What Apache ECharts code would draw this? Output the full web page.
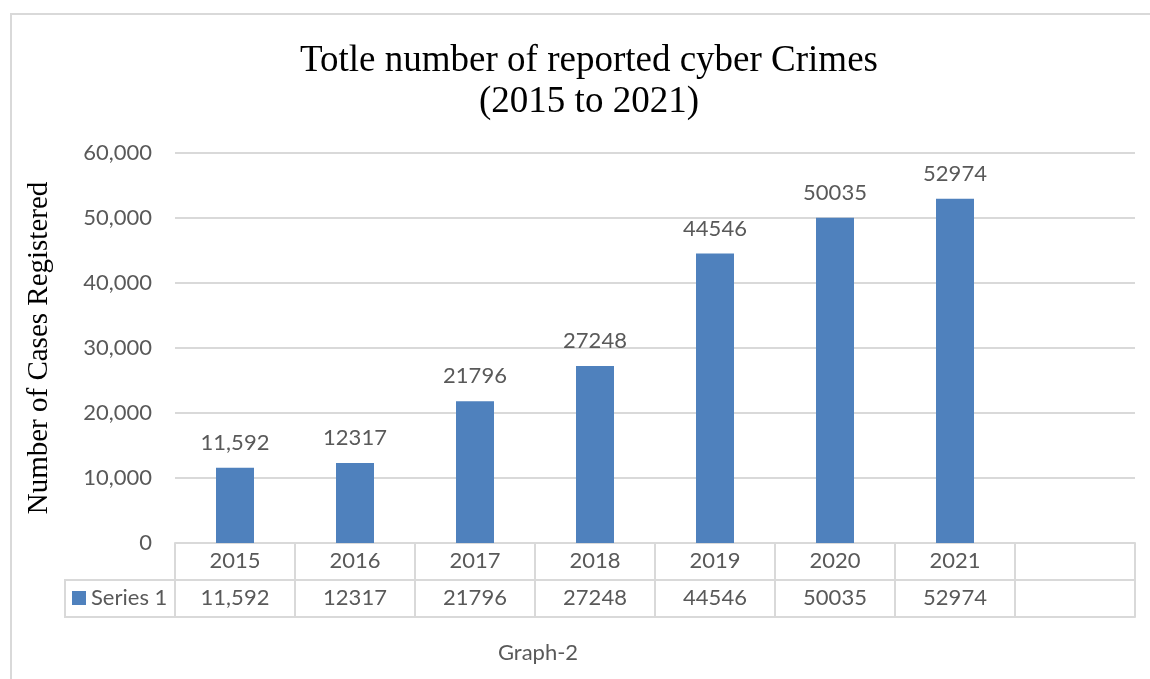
<!DOCTYPE html>
<html>
<head>
<meta charset="utf-8">
<script src="https://cdn.jsdelivr.net/npm/echarts@6/dist/echarts.min.js"></script>
<style>
html,body{margin:0;padding:0;background:#fff;}
#main{width:1150px;height:679px;}
</style>
</head>
<body>
<div id="main"></div>
<script>
// ---- data ----
var categories = ['2015', '2016', '2017', '2018', '2019', '2020', '2021', ''];
var seriesName = 'Series 1';
var values = [11592, 12317, 21796, 27248, 44546, 50035, 52974];
var valueLabels = ['11,592', '12317', '21796', '27248', '44546', '50035', '52974'];
var yTicks = { min: 0, max: 60000, interval: 10000 };
var titleText = 'Totle number of reported cyber Crimes\n(2015 to 2021)';
var yAxisTitle = 'Number of Cases Registered';
var captionText = 'Graph-2';

// ---- styles ----
var gray = '#d9d9d9';
var textGray = '#595959';
var barColor = '#4f81bd';
var sans = 'Lato';
var serif = 'Liberation Serif';

var chart = echarts.init(document.getElementById('main'));
chart.setOption({
  animation: false,
  backgroundColor: '#fff',
  title: [{
    text: titleText,
    left: 584,
    top: 36,
    textAlign: 'center',
    textStyle: { fontFamily: serif, fontSize: 37, fontWeight: 'normal', color: '#000', lineHeight: 41 }
  }, {
    text: captionText,
    left: 533,
    top: 637,
    textAlign: 'center',
    textStyle: { fontFamily: sans, fontSize: 22, fontWeight: 'normal', color: textGray }
  }],
  legend: {
    data: [seriesName],
    left: 72,
    top: 587,
    icon: 'rect',
    itemWidth: 14,
    itemHeight: 14,
    itemGap: 5,
    padding: 0,
    textStyle: { fontFamily: sans, fontSize: 22, color: textGray, padding: [0, 0, 0, 0] }
  },
  grid: { left: 175, right: 15, top: 153, bottom: 136, containLabel: false },
  xAxis: [{
    type: 'category',
    data: categories,
    position: 'bottom',
    boundaryGap: true,
    axisLine: { show: true, lineStyle: { color: gray, width: 2 } },
    axisTick: { show: true, length: 74, lineStyle: { color: gray, width: 2 } },
    axisLabel: { margin: 7, fontFamily: sans, fontSize: 22, color: textGray, interval: 0 },
    splitLine: { show: false }
  }, {
    type: 'category',
    data: categories,
    position: 'bottom',
    offset: 37,
    axisLine: { show: true, lineStyle: { color: gray, width: 2 } },
    axisTick: { show: false },
    axisLabel: {
      margin: 7, fontFamily: sans, fontSize: 22, color: textGray, interval: 0,
      formatter: function (v, i) { return valueLabels[i] || ''; }
    },
    splitLine: { show: false }
  }, {
    type: 'category',
    data: categories,
    position: 'bottom',
    offset: 74,
    axisLine: { show: true, lineStyle: { color: gray, width: 2 } },
    axisTick: { show: false },
    axisLabel: { show: false },
    splitLine: { show: false }
  }],
  yAxis: {
    type: 'value',
    min: yTicks.min,
    max: yTicks.max,
    interval: yTicks.interval,
    name: yAxisTitle,
    nameLocation: 'middle',
    nameRotate: 90,
    nameGap: 121,
    nameTextStyle: { fontFamily: serif, fontSize: 29, color: '#000' },
    axisLine: { show: false },
    axisTick: { show: false },
    axisLabel: {
      margin: 23, fontFamily: sans, fontSize: 22, color: textGray,
      formatter: function (v) { return v.toLocaleString('en-US'); }
    },
    splitLine: { lineStyle: { color: gray, width: 2 } }
  },
  series: [{
    name: seriesName,
    type: 'bar',
    data: values,
    barWidth: 38,
    itemStyle: { color: barColor },
    label: {
      show: true,
      position: 'top',
      distance: 14,
      fontFamily: sans,
      fontSize: 22,
      color: textGray,
      formatter: function (p) { return valueLabels[p.dataIndex]; }
    }
  }],
  graphic: [{
    type: 'rect',
    shape: { x: 11, y: 14, width: 1300, height: 800 },
    style: { fill: 'none', stroke: gray, lineWidth: 2 },
    silent: true, z: -1
  }, {
    type: 'polyline',
    shape: { points: [[175, 580], [65, 580], [65, 617], [175, 617]] },
    style: { fill: 'none', stroke: gray, lineWidth: 2 },
    silent: true
  }]
});
</script>
</body>
</html>
